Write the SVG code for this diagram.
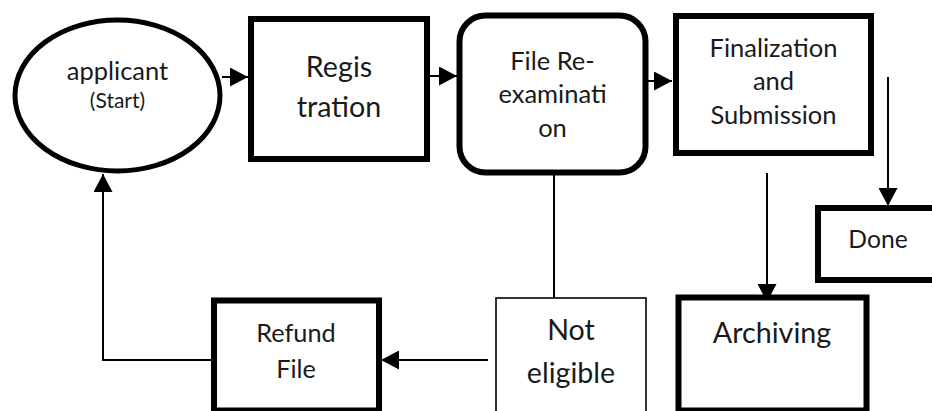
<svg xmlns="http://www.w3.org/2000/svg" width="932" height="411" viewBox="0 0 932 411">
<style>
.box{fill:#fff;stroke:#000;stroke-width:6}
.thin{fill:#fff;stroke:#000;stroke-width:1.6}
.t{font-family:Lato,"Open Sans","Liberation Sans",sans-serif;fill:#1a1a1a;text-anchor:middle}
.c{fill:none;stroke:#000;stroke-width:2}
</style>
<defs>
<marker id="ah" viewBox="0 0 18 19" refX="18" refY="9.5" markerWidth="18" markerHeight="19" markerUnits="userSpaceOnUse" orient="auto">
<path d="M0,0 L18,9.5 L0,19 z" fill="#000"/>
</marker>
</defs>
<g id="connectors">
<line class="c" x1="222" y1="77" x2="248" y2="77" marker-end="url(#ah)"/>
<line class="c" x1="430" y1="76" x2="457" y2="76" marker-end="url(#ah)"/>
<line class="c" x1="648" y1="81" x2="672" y2="81" marker-end="url(#ah)"/>
<line class="c" x1="554" y1="175" x2="554" y2="298"/>
<line class="c" x1="767" y1="173" x2="767" y2="302" marker-end="url(#ah)"/>
<line class="c" x1="888" y1="77" x2="888" y2="206" marker-end="url(#ah)"/>
<line class="c" x1="488" y1="360" x2="381" y2="360" marker-end="url(#ah)"/>
<polyline class="c" points="211,360 103,360 103,174" marker-end="url(#ah)"/>
</g>
<g id="applicant">
<ellipse cx="117.5" cy="95.5" rx="102.5" ry="75.5" fill="#fff" stroke="#000" stroke-width="5"/>
<text class="t" x="117.5" y="80" font-size="25.5">applicant</text>
<text class="t" x="117.5" y="108" font-size="21">(Start)</text>
</g>
<g id="registration">
<rect class="box" x="251" y="19" width="176" height="140"/>
<text class="t" x="339" y="77" font-size="28.7">Regis</text>
<text class="t" x="339" y="117" font-size="28.7">tration</text>
</g>
<g id="file-reexamination">
<rect class="box" x="459.5" y="15.5" width="186" height="157" rx="26" stroke-width="5"/>
<text class="t" x="552.5" y="70" font-size="25.5">File Re-</text>
<text class="t" x="552.5" y="103" font-size="25.5">examinati</text>
<text class="t" x="552.5" y="137" font-size="25.5">on</text>
</g>
<g id="finalization">
<rect class="box" x="676" y="16" width="195" height="137"/>
<text class="t" x="773.5" y="57" font-size="25.5">Finalization</text>
<text class="t" x="773.5" y="90" font-size="25.5">and</text>
<text class="t" x="773.5" y="124" font-size="25.5">Submission</text>
</g>
<g id="done">
<rect class="box" x="818" y="208" width="130" height="72"/>
<text class="t" x="878" y="248" font-size="24.7">Done</text>
</g>
<g id="archiving">
<rect class="box" x="678.5" y="297.5" width="188" height="113" stroke-width="7"/>
<text class="t" x="772" y="343" font-size="28.7">Archiving</text>
</g>
<g id="not-eligible">
<rect class="thin" x="496" y="298" width="150" height="130"/>
<text class="t" x="571" y="340" font-size="28.6">Not</text>
<text class="t" x="571" y="383" font-size="28.6">eligible</text>
</g>
<g id="refund">
<rect class="box" x="214" y="300.5" width="165" height="110"/>
<text class="t" x="296" y="342" font-size="25.3">Refund</text>
<text class="t" x="296" y="378" font-size="25.3">File</text>
</g>
</svg>
